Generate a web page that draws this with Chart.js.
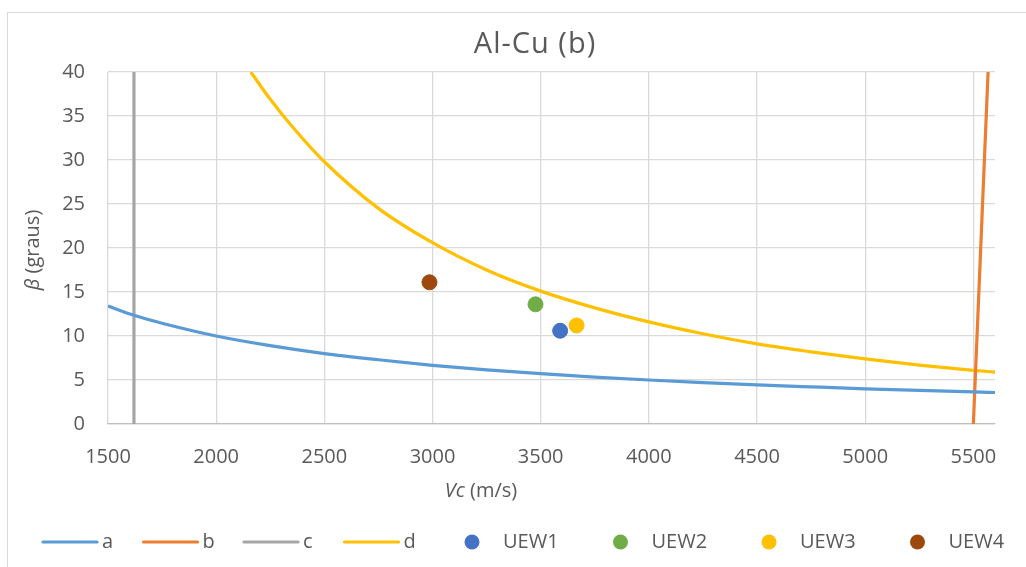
<!DOCTYPE html>
<html>
<head>
<meta charset="utf-8">
<title>Al-Cu (b)</title>
<script src="https://cdn.jsdelivr.net/npm/chart.js@4.4.1/dist/chart.umd.min.js"></script>
<style>
  html, body { margin: 0; padding: 0; background: #ffffff; }
  #wrap { position: relative; width: 1026px; height: 567px; }
  canvas { display: block; }
</style>
</head>
<body>
<div id="wrap"><canvas id="chart" width="1026" height="567"></canvas></div>
<script>
// Curve a: beta (graus) against Vc (m/s)
const aVc   = [1500, 1620, 1750, 2000, 2250, 2500, 2750, 3000, 3250, 3500, 3750, 4000, 4250, 4500, 4750, 5000, 5250, 5500, 5600];
const aBeta = [13.4, 12.35, 11.45, 10.0, 8.9, 8.0, 7.3, 6.67, 6.15, 5.72, 5.33, 5.0, 4.71, 4.45, 4.22, 4.0, 3.81, 3.64, 3.58];

// Line b (steep, near Vc = 5500)
const bVc   = [5500, 5568];
const bBeta = [0, 40];

// Line c (vertical)
const cVc   = [1620, 1620];
const cBeta = [0, 40];

// Curve d
const dVc   = [2160, 2250, 2365, 2500, 2750, 3000, 3250, 3500, 3750, 4000, 4250, 4500, 4750, 5000, 5250, 5500, 5600];
const dBeta = [40.0, 36.9, 33.4, 29.8, 24.5, 20.6, 17.5, 15.1, 13.2, 11.6, 10.25, 9.1, 8.2, 7.4, 6.7, 6.1, 5.9];

// Measured welds
const uewNames = ['UEW1', 'UEW2', 'UEW3', 'UEW4'];
const uewVc    = [3590, 3476, 3666, 2986];
const uewBeta  = [10.6, 13.6, 11.2, 16.1];

const lineNames = ['a', 'b', 'c', 'd'];
const lineColors = ['#5B9BD5', '#ED7D31', '#A5A5A5', '#FFC000'];
const uewColors  = ['#4472C4', '#70AD47', '#FFC000', '#9E480E'];

const xTicks = [1500, 2000, 2500, 3000, 3500, 4000, 4500, 5000, 5500];
const yTicks = [0, 5, 10, 15, 20, 25, 30, 35, 40];

const FONT = '"Open Sans", "Liberation Sans", sans-serif';
const TEXT = '#595959';

function pairs(xs, ys) { return xs.map((x, i) => ({ x: x, y: ys[i] })); }

const lineSets = [[aVc, aBeta], [bVc, bBeta], [cVc, cBeta], [dVc, dBeta]].map((s, i) => ({
  label: lineNames[i],
  data: pairs(s[0], s[1]),
  showLine: true,
  borderColor: lineColors[i],
  backgroundColor: lineColors[i],
  borderWidth: 3.2,
  pointRadius: 0,
  cubicInterpolationMode: 'monotone',
  kind: 'line'
}));

const pointSets = uewNames.map((n, i) => ({
  label: n,
  data: [{ x: uewVc[i], y: uewBeta[i] }],
  showLine: false,
  backgroundColor: uewColors[i],
  borderColor: uewColors[i],
  pointRadius: 7.5,
  pointHoverRadius: 7.5,
  kind: 'point'
}));

// Outer frame, title, axis titles with italic symbols, and the legend row
const decorations = {
  id: 'decorations',
  beforeDraw(chart) {
    const ctx = chart.ctx;
    ctx.save();
    ctx.fillStyle = '#ffffff';
    ctx.fillRect(0, 0, chart.width, chart.height);
    ctx.strokeStyle = '#d9d9d9';
    ctx.lineWidth = 1;
    ctx.strokeRect(7.5, 12.5, chart.width + 20, chart.height + 20);
    ctx.restore();
  },
  afterDraw(chart) {
    const ctx = chart.ctx;
    ctx.save();
    ctx.fillStyle = TEXT;
    ctx.textBaseline = 'middle';

    // Title
    ctx.font = '29px ' + FONT;
    ctx.textAlign = 'center';
    ctx.letterSpacing = '1px';
    ctx.fillText('Al-Cu (b)', 535, 45);
    ctx.letterSpacing = '0px';

    // Mixed italic/regular text centred on a point
    function mixed(parts, cx, cy) {
      let total = 0;
      parts.forEach(p => { ctx.font = p[1] + ' 20px ' + FONT; total += ctx.measureText(p[0]).width; });
      let x = cx - total / 2;
      ctx.textAlign = 'left';
      parts.forEach(p => {
        ctx.font = p[1] + ' 20px ' + FONT;
        ctx.fillText(p[0], x, cy);
        x += ctx.measureText(p[0]).width;
      });
    }

    // X axis title
    mixed([['Vc', 'italic'], [' (m/s)', 'normal']], 481, 491);

    // Y axis title (rotated)
    ctx.save();
    ctx.translate(33, 250);
    ctx.rotate(-Math.PI / 2);
    mixed([['\u03B2', 'italic'], [' (graus)', 'normal']], 0, 0);
    ctx.restore();

    // Legend
    const ly = 542;
    let x = 43;
    ctx.font = '20px ' + FONT;
    ctx.textAlign = 'left';
    chart.data.datasets.forEach(ds => {
      if (ds.kind === 'line') {
        ctx.strokeStyle = ds.borderColor;
        ctx.lineWidth = 3.2;
        ctx.lineCap = 'round';
        ctx.beginPath();
        ctx.moveTo(x, ly);
        ctx.lineTo(x + 54, ly);
        ctx.stroke();
        ctx.fillStyle = TEXT;
        ctx.fillText(ds.label, x + 59, ly);
        x += 100.5;
      }
    });
    x = 472;
    chart.data.datasets.forEach(ds => {
      if (ds.kind === 'point') {
        ctx.fillStyle = ds.backgroundColor;
        ctx.beginPath();
        ctx.arc(x, ly, 7.5, 0, Math.PI * 2);
        ctx.fill();
        ctx.fillStyle = TEXT;
        ctx.fillText(ds.label, x + 31, ly);
        x += 148.5;
      }
    });
    ctx.restore();
  }
};

new Chart(document.getElementById('chart'), {
  type: 'scatter',
  data: { datasets: lineSets.concat(pointSets) },
  options: {
    responsive: false,
    animation: false,
    events: [],
    layout: { padding: { left: 0, top: 72, right: 31, bottom: 0 } },
    plugins: {
      legend: { display: false },
      title: { display: false },
      tooltip: { enabled: false }
    },
    scales: {
      x: {
        type: 'linear',
        min: 1500,
        max: 5600,
        afterFit(scale) { scale.height = 143; },
        afterBuildTicks(scale) { scale.ticks = xTicks.map(v => ({ value: v })); },
        grid: { color: '#d9d9d9', lineWidth: 1.3, drawTicks: false },
        border: { color: '#bfbfbf', width: 1.3 },
        ticks: {
          color: TEXT, font: { family: FONT, size: 20 }, padding: 21, maxRotation: 0,
          callback: v => String(v)
        }
      },
      y: {
        type: 'linear',
        min: 0,
        max: 40,
        afterFit(scale) { scale.width = 108; },
        afterBuildTicks(scale) { scale.ticks = yTicks.map(v => ({ value: v })); },
        grid: { color: '#d9d9d9', lineWidth: 1.3, drawTicks: false },
        border: { display: false },
        ticks: {
          color: TEXT, font: { family: FONT, size: 20 }, padding: 23,
          callback: v => String(v)
        }
      }
    }
  },
  plugins: [decorations]
});
</script>
</body>
</html>
